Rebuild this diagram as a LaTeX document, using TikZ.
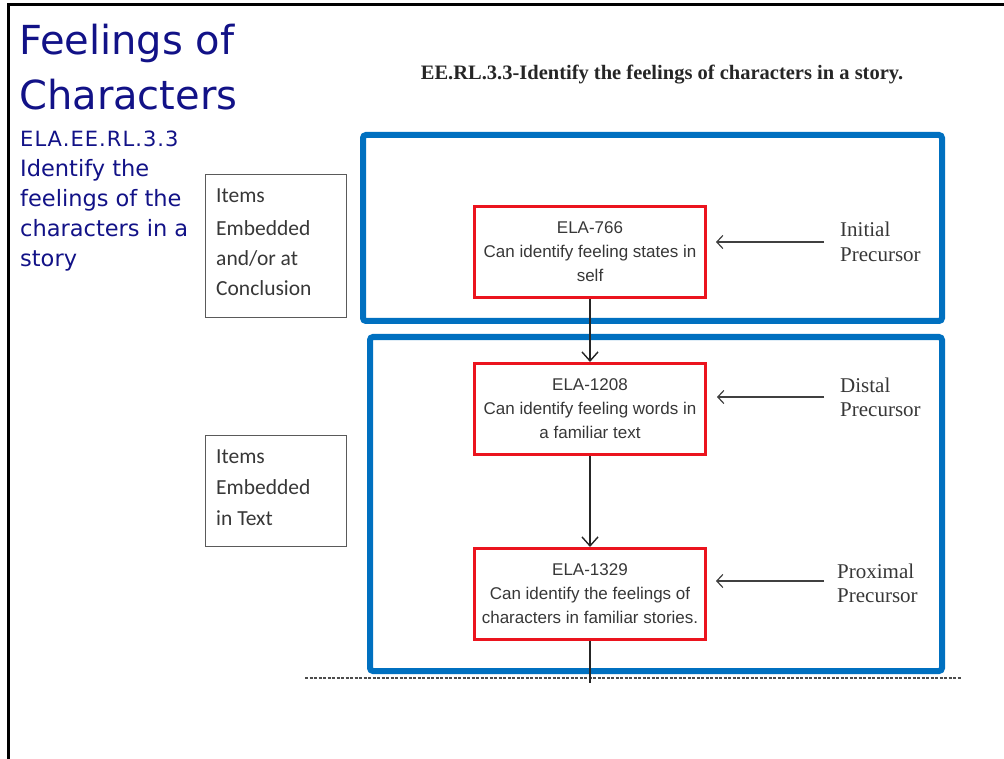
\documentclass[tikz,border=0pt]{standalone}
\usepackage{fontspec}
\setmainfont{Liberation Serif}
\newfontfamily\titlefont{DejaVu Sans}
\newfontfamily\arialfont{Liberation Sans}
\newfontfamily\calfont{Carlito}
\usetikzlibrary{arrows.meta}
\definecolor{navy}{RGB}{18,18,135}
\definecolor{slideblue}{RGB}{0,112,192}
\definecolor{boxred}{RGB}{235,20,30}
\definecolor{txtgray}{RGB}{55,55,55}
\definecolor{framegray}{RGB}{90,90,90}
\tikzset{
  titletxt/.style={anchor=base west, inner sep=0, text=navy, font=\titlefont\fontsize{40}{40}\selectfont},
  subtxt/.style={anchor=base west, inner sep=0, text=navy, font=\titlefont\fontsize{22.5}{22.5}\selectfont},
  bluebox/.style={draw=slideblue, line width=6pt, rounded corners=3pt},
  redbox/.style={draw=boxred, line width=3pt, minimum width=231pt, minimum height=91pt, inner sep=0, align=center, text=txtgray, font=\arialfont\fontsize{17}{24}\selectfont},
  graybox/.style={draw=framegray, line width=1.1pt, anchor=north west, inner sep=0},
  graytxt/.style={anchor=base west, inner sep=0, text=txtgray, font=\calfont\fontsize{21.5}{21.5}\selectfont},
  prectxt/.style={anchor=base west, inner sep=0, text=txtgray, font=\fontsize{21}{21}\selectfont},
  flowarrow/.style={draw=black!85, line width=1.4pt, -{Straight Barb[length=9pt,width=16pt,line width=1.4pt]}},
  sidearrow/.style={draw=black!75, line width=1.3pt, -{Straight Barb[length=6pt,width=13pt,line width=1.2pt]}}
}
\begin{document}
\begin{tikzpicture}[x=1pt,y=-1pt]
\useasboundingbox (0,0) rectangle (1004,759);
% slide frame
\draw[line width=3pt, black] (8,759) -- (8,5) -- (1004,5);
% title
\node[titletxt] (t1) at (19,55) {Feelings of};
\node[titletxt] (t2) at (19,110) {Characters};
\node[subtxt, font=\titlefont\fontsize{21}{21}\selectfont\addfontfeature{LetterSpace=5}] (s1) at (20,147) {ELA.EE.RL.3.3};
\node[subtxt] (s2) at (20,177) {Identify the};
\node[subtxt] (s3) at (20,207) {feelings of the};
\node[subtxt] (s4) at (20,237) {characters in a};
\node[subtxt] (s5) at (20,267) {story};
% heading
\node[anchor=base, inner sep=0, text=black!85, font=\bfseries\fontsize{20.5}{20.5}\selectfont] (head) at (662,80) {EE.RL.3.3-Identify the feelings of characters in a story.};
% blue frames
\draw[bluebox] (363,135) rectangle (942,321);
\draw[bluebox] (370,337) rectangle (942,671);
% gray boxes
\node[graybox, minimum width=141pt, minimum height=143pt] (g1) at (205,174) {};
\node[graytxt] (g1a) at (216,203) {Items};
\node[graytxt] (g1b) at (216,236) {Embedded};
\node[graytxt] (g1c) at (216,266) {and/or at};
\node[graytxt] (g1d) at (216,296) {Conclusion};
\node[graybox, minimum width=141pt, minimum height=111pt] (g2) at (205,435) {};
\node[graytxt] (g2a) at (216,463) {Items};
\node[graytxt] (g2b) at (216,494) {Embedded};
\node[graytxt] (g2c) at (216,525) {in Text};
% red boxes
\node[redbox] (e766) at (590,252) {ELA-766\\Can identify feeling states in\\self};
\node[redbox] (e1208) at (590,409) {ELA-1208\\Can identify feeling words in\\a familiar text};
\node[redbox] (e1329) at (590,594) {ELA-1329\\Can identify the feelings of\\characters in familiar stories.};
% precursor labels
\node[prectxt] (p1a) at (840,237) {Initial};
\node[prectxt] (p1b) at (840,262) {Precursor};
\node[prectxt] (p2a) at (840,392) {Distal};
\node[prectxt] (p2b) at (840,416) {Precursor};
\node[prectxt] (p3a) at (837,578) {Proximal};
\node[prectxt] (p3b) at (837,602) {Precursor};
\coordinate (a1) at (824,242);
\coordinate (a2) at (824,397);
\coordinate (a3) at (824,581);
\draw[sidearrow] (a1) -- ([xshift=9pt]e766.east |- a1);
\draw[sidearrow] (a2) -- ([xshift=10pt]e1208.east |- a2);
\draw[sidearrow] (a3) -- ([xshift=9pt]e1329.east |- a3);
% dashed line
\coordinate (d1) at (305,678);
\coordinate (d2) at (961,678);
\draw[black!70, line width=1.3pt, dash pattern=on 3pt off 1.5pt] (d1) -- (d2);
% flow connectors
\draw[flowarrow] (e766.south) -- (e1208.north);
\draw[flowarrow] (e1208.south) -- (e1329.north);
\coordinate (tail) at (590,683);
\draw[black!85, line width=1.3pt] (e1329.south) -- (tail);
\end{tikzpicture}
\end{document}
